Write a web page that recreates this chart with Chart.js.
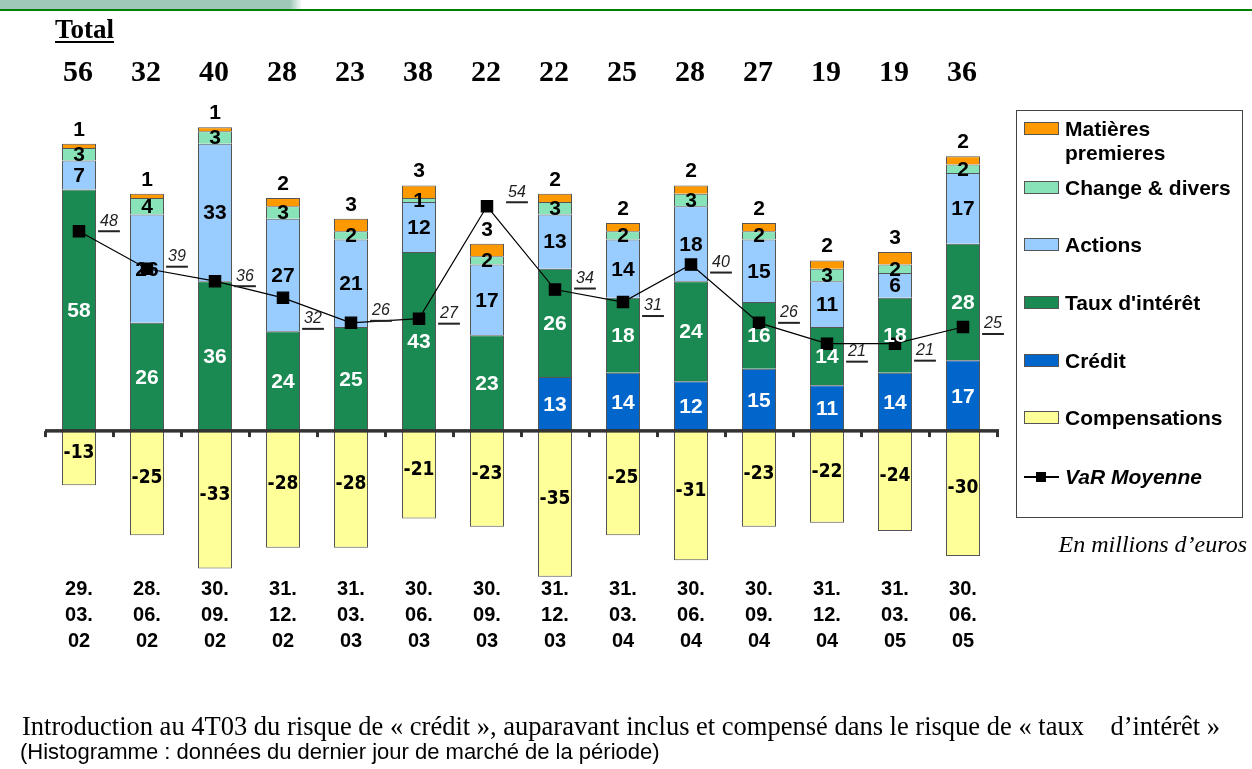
<!DOCTYPE html>
<html>
<head>
<meta charset="utf-8">
<script src="https://cdn.jsdelivr.net/npm/chart.js@4"></script>
<style>
  body { margin: 0; background: #fff; width: 1252px; height: 769px; overflow: hidden; position: relative; font-family: "Liberation Sans", Arial, sans-serif; }
  #band { position: absolute; left: 0; top: 0; width: 302px; height: 9px; background: linear-gradient(to right, #a0c8b8 96%, #fff); }
  #rule { position: absolute; left: 0; top: 9px; width: 1252px; height: 2px; background: #008000; }
  #chart { position: absolute; left: 0; top: 0; }
  #total { position: absolute; left: 55px; top: 14px; font: bold 27px "Liberation Serif", serif; text-decoration: underline; text-underline-offset: 3px; }
  #legend { position: absolute; left: 1016px; top: 110px; width: 227px; height: 408px; border: 1px solid #444; box-sizing: border-box; }
  .item { position: absolute; left: 48px; font: bold 21px "Liberation Sans", Arial, sans-serif; line-height: 24px; color: #000; white-space: nowrap; }
  .sw { position: absolute; left: 7px; width: 35px; height: 13px; border: 1px solid #555; box-sizing: border-box; }
  #unit { position: absolute; right: 5px; top: 531px; font: italic 24px "Liberation Serif", serif; }
  #note1 { position: absolute; left: 22px; top: 711px; font: 26.5px "Liberation Serif", serif; white-space: pre; }
  #note2 { position: absolute; left: 20px; top: 739px; font: 22px "Liberation Sans", sans-serif; white-space: pre; }
</style>
</head>
<body>
<div id="band"></div>
<div id="rule"></div>
<canvas id="chart" width="1252" height="769"></canvas>
<div id="total">Total</div>
<div id="legend"></div>
<div id="unit">En millions d’euros</div>
<div id="note1">Introduction au 4T03 du risque de « crédit », auparavant inclus et compensé dans le risque de « taux    d’intérêt »</div>
<div id="note2">(Histogramme : données du dernier jour de marché de la période)</div>
<script>
// dates de fin de trimestre
const dates = ['29.03.02', '28.06.02', '30.09.02', '31.12.02', '31.03.03', '30.06.03', '30.09.03',
               '31.12.03', '31.03.04', '30.06.04', '30.09.04', '31.12.04', '31.03.05', '30.06.05'];

// composantes de la VaR (millions d'euros)
const credit        = [null, null, null, null, null, null, null, 13, 14, 12, 15, 11, 14, 17];
const taux          = [58, 26, 36, 24, 25, 43, 23, 26, 18, 24, 16, 14, 18, 28];
const actions       = [7, 26, 33, 27, 21, 12, 17, 13, 14, 18, 15, 11, 6, 17];
const change        = [3, 4, 3, 3, 2, 1, 2, 3, 2, 3, 2, 3, 2, 2];
const matieres      = [1, 1, 1, 2, 3, 3, 3, 2, 2, 2, 2, 2, 3, 2];
const compensations = [-13, -25, -33, -28, -28, -21, -23, -35, -25, -31, -23, -22, -24, -30];
const varMoyenne    = [48, 39, 36, 32, 26, 27, 54, 34, 31, 40, 26, 21, 21, 25];
const totals        = [56, 32, 40, 28, 23, 38, 22, 22, 25, 28, 27, 19, 19, 36];

// petit decalage vertical des etiquettes VaR
const varLabelDy = [-10, -12, -5, 21, -12, -5, -14, -11, 4, -2, -10, 8, 7, -3];

const series = [
  { label: 'Crédit', data: credit, color: '#0066cc', text: '#fff' },
  { label: "Taux d'intérêt", data: taux, color: '#1b8a52', text: '#fff' },
  { label: 'Actions', data: actions, color: '#99ccff', text: '#000' },
  { label: 'Change & divers', data: change, color: '#88e4b8', text: '#000' },
  { label: 'Matières premieres', data: matieres, color: '#ff9900', text: '#000', above: true },
  { label: 'Compensations', data: compensations, color: '#ffff99', text: '#000', comp: true }
];

const barSets = series.map(s => ({
  type: 'bar',
  label: s.label,
  data: s.data,
  backgroundColor: s.color,
  borderColor: '#555',
  borderWidth: 1,
  stack: 'risk',
  order: 2,
  barPercentage: 1,
  categoryPercentage: 0.5
}));

const lineSet = {
  type: 'line',
  label: 'VaR Moyenne',
  data: varMoyenne,
  borderColor: '#000',
  borderWidth: 1.2,
  backgroundColor: '#000',
  pointStyle: 'rect',
  pointRadius: 8,
  pointBackgroundColor: '#000',
  stack: 'var',
  order: 0
};

const labelsPlugin = {
  id: 'labels',
  afterDatasetsDraw(chart) {
    const ctx = chart.ctx;
    const xs = chart.scales.x, ys = chart.scales.y;
    ctx.save();

    // axe zero avec graduations
    const y0 = ys.getPixelForValue(0);
    ctx.fillStyle = '#333';
    ctx.fillRect(xs.left, y0 - 2, xs.right - xs.left + 2, 3.5);
    const step = (xs.right - xs.left) / dates.length;
    for (let k = 0; k <= dates.length; k++) {
      ctx.fillRect(xs.left + k * step - 1, y0, 3, 6);
    }

    ctx.textAlign = 'center';
    ctx.textBaseline = 'middle';
    series.forEach((s, i) => {
      const meta = chart.getDatasetMeta(i);
      meta.data.forEach((el, j) => {
        const v = s.data[j];
        if (v == null) return;
        ctx.fillStyle = s.text;
        if (s.comp) {
          ctx.font = 'bold 19px "DejaVu Sans Condensed", "DejaVu Sans", sans-serif';
          ctx.fillText(String(v), el.x, (el.y + el.base) / 2 - 5);
        } else if (s.above) {
          ctx.font = 'bold 21px "Liberation Sans", Arial, sans-serif';
          ctx.fillText(String(v), el.x, el.y - 14);
        } else {
          ctx.font = 'bold 21px "Liberation Sans", Arial, sans-serif';
          ctx.fillText(String(v), el.x, (el.y + el.base) / 2 + 1);
        }
      });
    });

    // totaux en haut
    ctx.fillStyle = '#000';
    ctx.font = 'bold 30px "Liberation Serif", serif';
    chart.getDatasetMeta(0).data.forEach((el, j) => {
      ctx.fillText(String(totals[j]), el.x - 1, 73);
    });

    // etiquettes VaR soulignees
    const lineMeta = chart.getDatasetMeta(series.length);
    ctx.font = 'italic 16px "Liberation Sans", Arial, sans-serif';
    ctx.fillStyle = '#222';
    lineMeta.data.forEach((pt, j) => {
      const lx = pt.x + 30, ly = pt.y + varLabelDy[j];
      const txt = String(varMoyenne[j]);
      const w = ctx.measureText(txt).width + 4;
      ctx.fillText(txt, lx, ly);
      ctx.fillRect(lx - w / 2, ly + 9, w, 2);
    });
    ctx.restore();
  }
};

new Chart(document.getElementById('chart'), {
  data: {
    labels: dates.map(d => d.split('.').map((p, i, a) => i < a.length - 1 ? p + '.' : p)),
    datasets: [...barSets, lineSet]
  },
  options: {
    responsive: false,
    devicePixelRatio: 1,
    animation: false,
    layout: { padding: { left: 45, right: 255, top: 98, bottom: 98 } },
    plugins: { legend: { display: false }, tooltip: { enabled: false } },
    scales: {
      x: {
        stacked: true,
        grid: { display: false },
        border: { display: false },
        ticks: {
          color: '#000',
          padding: -13,
          font: { family: '"Liberation Sans", Arial, sans-serif', size: 20, weight: 'bold', lineHeight: '26px' }
        },
        afterFit(scale) { scale.height = 90; }
      },
      y: {
        stacked: true,
        display: false,
        min: -36,
        max: 80
      }
    }
  },
  plugins: [labelsPlugin]
});

// legende
const legend = document.getElementById('legend');
const legendRows = [
  { s: series[4], top: 18, text: 'Matières<br>premieres' },
  { s: series[3], top: 77 },
  { s: series[2], top: 134 },
  { s: series[1], top: 192 },
  { s: series[0], top: 250 },
  { s: series[5], top: 307 }
];
legendRows.forEach(r => {
  const sw = document.createElement('div');
  sw.className = 'sw';
  sw.style.top = (r.top - 7) + 'px';
  sw.style.background = r.s.color;
  legend.appendChild(sw);
  const t = document.createElement('div');
  t.className = 'item';
  t.style.top = (r.top - 12) + 'px';
  t.innerHTML = r.text || r.s.label;
  legend.appendChild(t);
});
const varRow = document.createElement('div');
varRow.innerHTML = '<div style="position:absolute;left:7px;top:365px;width:35px;height:1.5px;background:#000"></div>' +
  '<div style="position:absolute;left:19px;top:361px;width:10px;height:10px;background:#000"></div>' +
  '<div class="item" style="top:354px;font-style:italic">VaR Moyenne</div>';
legend.appendChild(varRow);
</script>
</body>
</html>
